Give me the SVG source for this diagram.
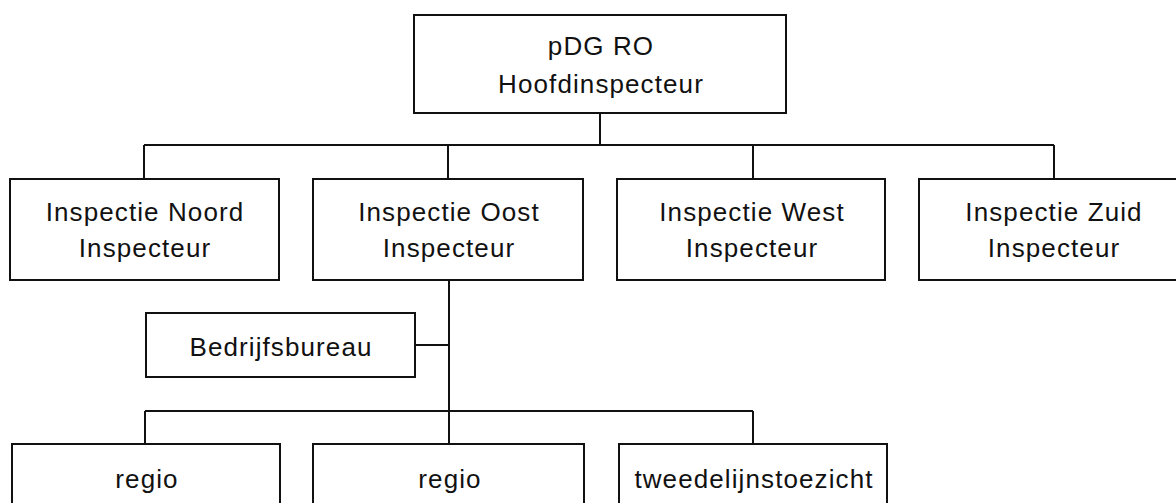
<svg xmlns="http://www.w3.org/2000/svg" width="1176" height="503" viewBox="0 0 1176 503">
<style>
.box{fill:#fff;stroke:#111;stroke-width:2}
.conn{fill:none;stroke:#111;stroke-width:2}
text{font-family:"Liberation Sans",Arial,sans-serif;font-size:26px;fill:#111;text-anchor:middle;letter-spacing:1.1px}
</style>
<rect width="1176" height="503" fill="#fff"/>
<g id="connectors">
<path class="conn" d="M600 113V145M144 145H1054M144 145V179M448 145V179M753 145V179M1054 145V179"/>
<path class="conn" d="M449 280V444M415 345H449M145 411H753M145 411V444M753 411V444"/>
</g>
<g id="hoofd"><rect class="box" x="414" y="15" width="372" height="98"/><text x="601" y="55">pDG RO</text><text x="601" y="93">Hoofdinspecteur</text></g>
<g id="noord"><rect class="box" x="10" y="179" width="269" height="101"/><text x="145" y="221">Inspectie Noord</text><text x="145" y="257">Inspecteur</text></g>
<g id="oost"><rect class="box" x="313" y="179" width="270" height="101"/><text x="449" y="221">Inspectie Oost</text><text x="449" y="257">Inspecteur</text></g>
<g id="west"><rect class="box" x="617" y="179" width="268" height="101"/><text x="752" y="221">Inspectie West</text><text x="752" y="257">Inspecteur</text></g>
<g id="zuid"><rect class="box" x="919" y="179" width="270" height="101"/><text x="1054" y="221">Inspectie Zuid</text><text x="1054" y="257">Inspecteur</text></g>
<g id="bedrijfsbureau"><rect class="box" x="146" y="313" width="269" height="64"/><text x="281" y="356">Bedrijfsbureau</text></g>
<g id="regio1"><rect class="box" x="12" y="444" width="268" height="70"/><text x="147" y="488">regio</text></g>
<g id="regio2"><rect class="box" x="313" y="444" width="271" height="70"/><text x="450" y="488">regio</text></g>
<g id="tweedelijn"><rect class="box" x="619" y="444" width="268" height="70"/><text x="754" y="488">tweedelijnstoezicht</text></g>
</svg>
